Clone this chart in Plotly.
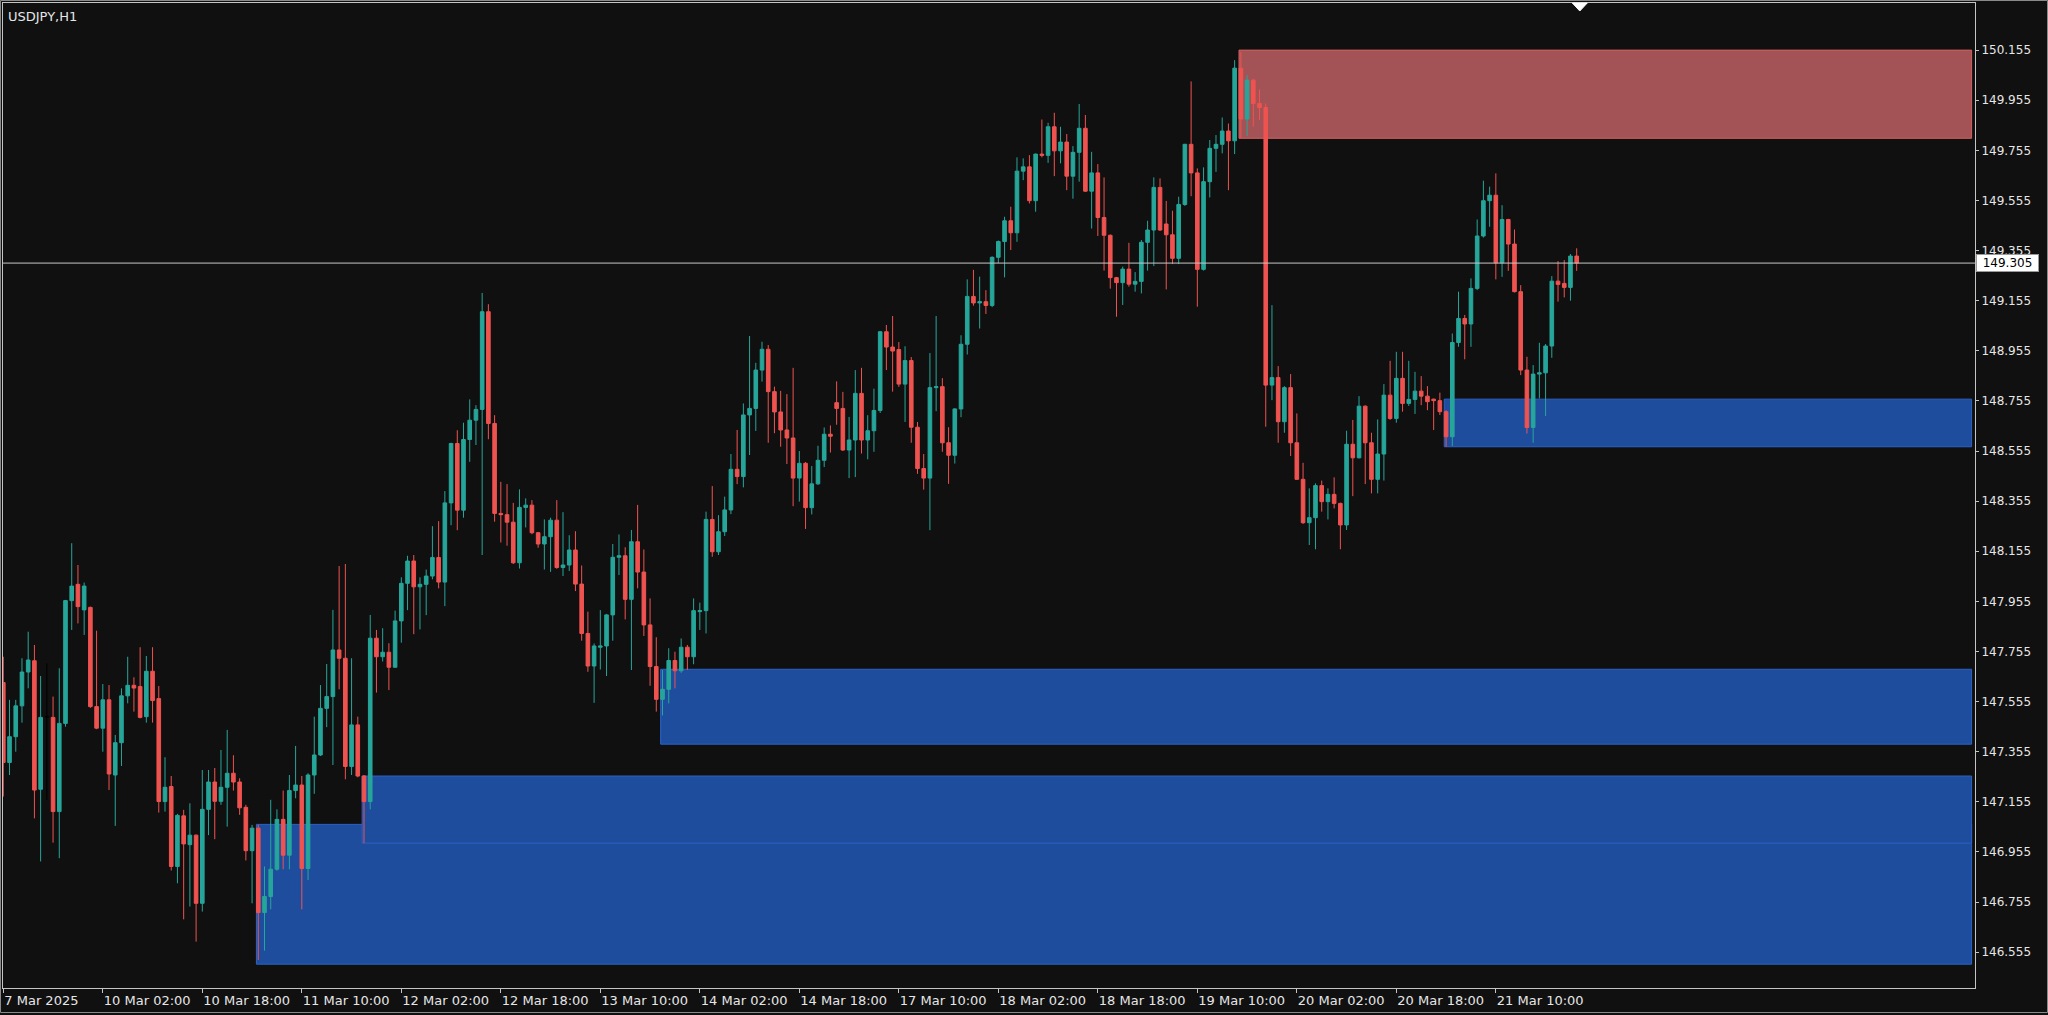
import plotly.graph_objects as go

# ---------------- data ----------------
symbol_title = "USDJPY,H1"

opens = [
    147.631, 147.312, 147.415, 147.538, 147.673, 147.718, 147.205, 147.495, 147.492, 147.116,
    147.468, 147.958, 148.023, 147.921, 147.931, 147.535, 147.449, 147.562, 147.262, 147.391,
    147.578, 147.620, 147.615, 147.495, 147.676, 147.567, 147.156, 147.216, 146.897, 147.099,
    146.984, 147.022, 146.750, 147.125, 147.234, 147.157, 147.213, 147.269, 147.234, 147.133,
    146.960, 147.050, 146.713, 146.777, 146.886, 147.085, 146.942, 147.200, 147.222, 146.889,
    147.262, 147.342, 147.528, 147.575, 147.761, 147.728, 147.296, 147.462, 147.258, 147.156,
    147.808, 147.734, 147.752, 147.692, 147.877, 148.027, 148.116, 148.013, 148.023, 148.056,
    148.130, 148.032, 148.348, 148.585, 148.319, 148.601, 148.678, 148.721, 149.111, 148.665,
    148.306, 148.301, 148.271, 148.109, 148.330, 148.339, 148.229, 148.184, 148.213, 148.279,
    148.090, 148.100, 148.160, 148.024, 147.827, 147.697, 147.772, 147.777, 147.901, 148.131,
    148.137, 147.963, 148.193, 148.072, 147.861, 147.695, 147.564, 147.604, 147.719, 147.678,
    147.772, 147.734, 147.914, 147.918, 148.282, 148.153, 148.233, 148.320, 148.482, 148.453,
    148.699, 148.725, 148.878, 148.961, 148.792, 148.711, 148.639, 148.607, 148.447, 148.506,
    148.329, 148.424, 148.518, 148.622, 148.748, 148.725, 148.559, 148.599, 148.785, 148.599,
    148.636, 148.717, 149.031, 148.970, 148.960, 148.822, 148.916, 148.650, 148.485, 148.447,
    148.808, 148.812, 148.588, 148.538, 148.723, 148.981, 149.172, 149.146, 149.151, 149.136,
    149.328, 149.391, 149.474, 149.426, 149.672, 149.689, 149.554, 149.740, 149.735, 149.849,
    149.753, 149.788, 149.652, 149.747, 149.843, 149.592, 149.665, 149.487, 149.416, 149.247,
    149.227, 149.281, 149.221, 149.232, 149.388, 149.437, 149.607, 149.461, 149.418, 149.324,
    149.539, 149.779, 149.665, 149.280, 149.630, 149.763, 149.779, 149.832, 149.793, 150.083,
    149.880, 150.035, 149.942, 149.926, 148.818, 148.848, 148.672, 148.808, 148.588, 148.442,
    148.269, 148.289, 148.417, 148.353, 148.382, 148.346, 148.260, 148.582, 148.528, 148.734,
    148.588, 148.442, 148.543, 148.778, 148.685, 148.845, 148.745, 148.761, 148.794, 148.774,
    148.762, 148.756, 148.712, 148.612, 148.988, 149.084, 149.062, 149.204, 149.413, 149.554,
    149.576, 149.306, 149.479, 149.381, 149.191, 148.878, 148.649, 148.862, 148.867, 148.974,
    149.233, 149.224, 149.208, 149.333,
]
highs = [
    147.734, 147.562, 147.562, 147.728, 147.834, 147.781, 147.657, 147.708, 147.575, 147.688,
    147.961, 148.187, 148.100, 148.030, 147.934, 147.838, 147.625, 147.621, 147.422, 147.608,
    147.734, 147.652, 147.772, 147.737, 147.772, 147.617, 147.333, 147.258, 147.107, 147.123,
    147.149, 147.025, 147.282, 147.282, 147.290, 147.362, 147.442, 147.341, 147.249, 147.143,
    147.063, 147.063, 146.897, 147.163, 147.125, 147.200, 147.262, 147.378, 147.258, 147.269,
    147.495, 147.621, 147.705, 147.921, 148.096, 148.104, 147.728, 147.495, 147.262, 147.901,
    147.841, 147.848, 147.788, 147.918, 148.051, 148.137, 148.140, 148.051, 148.082, 148.255,
    148.275, 148.395, 148.588, 148.638, 148.668, 148.761, 148.738, 149.186, 149.141, 148.698,
    148.432, 148.423, 148.348, 148.402, 148.366, 148.359, 148.232, 148.282, 148.289, 148.359,
    148.311, 148.219, 148.235, 148.098, 147.914, 147.787, 147.920, 147.905, 148.184, 148.222,
    148.171, 148.240, 148.340, 148.162, 147.967, 147.812, 147.681, 147.768, 147.754, 147.807,
    147.781, 147.967, 147.950, 148.313, 148.415, 148.299, 148.373, 148.543, 148.639, 148.745,
    149.014, 148.907, 148.991, 148.978, 148.812, 148.795, 148.782, 148.887, 148.555, 148.511,
    148.495, 148.576, 148.649, 148.657, 148.833, 148.791, 148.691, 148.878, 148.887, 148.698,
    148.804, 149.034, 149.058, 149.094, 148.990, 148.973, 148.930, 148.671, 148.543, 148.946,
    149.094, 148.846, 148.650, 148.726, 149.017, 149.240, 149.278, 149.251, 149.197, 149.332,
    149.395, 149.490, 149.530, 149.727, 149.723, 149.736, 149.742, 149.878, 149.865, 149.905,
    149.849, 149.820, 149.772, 149.940, 149.896, 149.749, 149.700, 149.647, 149.419, 149.250,
    149.291, 149.386, 149.269, 149.397, 149.474, 149.647, 149.643, 149.553, 149.514, 149.570,
    149.781, 150.030, 149.683, 149.687, 149.796, 149.816, 149.886, 149.862, 150.115, 150.148,
    150.055, 150.040, 149.998, 149.942, 149.137, 148.894, 148.814, 148.862, 148.705, 148.508,
    148.406, 148.426, 148.437, 148.406, 148.450, 148.349, 148.636, 148.679, 148.774, 148.737,
    148.628, 148.681, 148.822, 148.915, 148.951, 148.951, 148.915, 148.871, 148.854, 148.814,
    148.764, 148.788, 148.718, 149.024, 149.191, 149.098, 149.244, 149.479, 149.634, 149.610,
    149.663, 149.536, 149.482, 149.439, 149.217, 148.931, 148.898, 148.987, 148.982, 149.253,
    149.313, 149.317, 149.341, 149.364,
]
lows = [
    147.176, 147.262, 147.355, 147.471, 147.608, 147.089, 146.917, 147.163, 146.992, 146.930,
    147.455, 147.841, 147.867, 147.821, 147.530, 147.445, 147.355, 147.202, 147.059, 147.298,
    147.548, 147.515, 147.488, 147.471, 147.471, 147.112, 147.116, 146.881, 146.830, 146.686,
    146.737, 146.597, 146.717, 147.022, 147.006, 147.143, 147.056, 147.200, 147.103, 146.921,
    146.750, 146.524, 146.561, 146.726, 146.880, 146.886, 146.886, 147.169, 146.726, 146.843,
    147.187, 147.338, 147.453, 147.302, 147.604, 147.245, 147.262, 147.253, 146.990, 147.125,
    147.591, 147.715, 147.601, 147.692, 147.790, 147.920, 147.824, 147.843, 147.900, 148.043,
    148.007, 147.936, 148.259, 148.239, 148.289, 148.512, 148.579, 148.140, 148.602, 148.273,
    148.190, 148.177, 148.104, 148.086, 148.250, 148.223, 148.169, 148.082, 148.073, 148.085,
    148.056, 148.076, 147.996, 147.798, 147.674, 147.550, 147.683, 147.657, 147.798, 148.060,
    147.883, 147.681, 148.007, 147.817, 147.618, 147.515, 147.500, 147.548, 147.608, 147.670,
    147.681, 147.704, 147.841, 147.827, 148.133, 148.140, 148.216, 148.303, 148.423, 148.410,
    148.539, 148.635, 148.832, 148.588, 148.626, 148.572, 148.503, 148.335, 148.353, 148.244,
    148.302, 148.420, 148.491, 148.549, 148.660, 148.555, 148.447, 148.451, 148.545, 148.522,
    148.552, 148.707, 148.878, 148.792, 148.811, 148.671, 148.588, 148.464, 148.401, 148.239,
    148.714, 148.552, 148.424, 148.505, 148.690, 148.940, 149.135, 149.044, 149.102, 149.129,
    149.305, 149.248, 149.357, 149.390, 149.636, 149.543, 149.510, 149.727, 149.705, 149.652,
    149.703, 149.596, 149.562, 149.630, 149.589, 149.443, 149.413, 149.275, 149.203, 149.091,
    149.138, 149.211, 149.191, 149.184, 149.275, 149.293, 149.433, 149.200, 149.301, 149.301,
    149.533, 149.572, 149.131, 149.275, 149.567, 149.669, 149.743, 149.596, 149.740, 149.804,
    149.812, 149.849, 149.876, 148.652, 148.758, 148.588, 148.628, 148.535, 148.440, 148.264,
    148.180, 148.163, 148.313, 148.282, 148.326, 148.163, 148.240, 148.375, 148.525, 148.423,
    148.386, 148.386, 148.437, 148.679, 148.668, 148.712, 148.735, 148.703, 148.738, 148.718,
    148.639, 148.699, 148.572, 148.575, 148.971, 148.921, 148.971, 149.197, 149.407, 149.450,
    149.240, 149.250, 149.274, 149.188, 148.858, 148.625, 148.588, 148.765, 148.695, 148.927,
    149.151, 149.168, 149.155, 149.274,
]
closes = [
    147.312, 147.415, 147.538, 147.673, 147.721, 147.202, 147.492, 147.495, 147.116, 147.468,
    147.958, 148.016, 147.934, 148.016, 147.535, 147.449, 147.562, 147.266, 147.391, 147.578,
    147.620, 147.609, 147.492, 147.676, 147.559, 147.156, 147.213, 146.897, 147.101, 146.987,
    147.022, 146.750, 147.125, 147.234, 147.157, 147.213, 147.269, 147.234, 147.131, 146.960,
    147.050, 146.713, 146.777, 146.886, 147.085, 146.942, 147.200, 147.222, 146.889, 147.262,
    147.342, 147.528, 147.575, 147.761, 147.728, 147.296, 147.462, 147.258, 147.156, 147.808,
    147.734, 147.752, 147.692, 147.877, 148.027, 148.116, 148.013, 148.023, 148.056, 148.130,
    148.032, 148.348, 148.585, 148.319, 148.601, 148.678, 148.721, 149.111, 148.665, 148.306,
    148.301, 148.271, 148.109, 148.330, 148.339, 148.229, 148.184, 148.213, 148.279, 148.090,
    148.100, 148.160, 148.024, 147.827, 147.697, 147.777, 147.777, 147.901, 148.131, 148.137,
    147.963, 148.193, 148.072, 147.861, 147.695, 147.564, 147.604, 147.719, 147.678, 147.772,
    147.734, 147.918, 147.918, 148.282, 148.153, 148.233, 148.320, 148.482, 148.453, 148.699,
    148.725, 148.878, 148.961, 148.792, 148.711, 148.639, 148.607, 148.447, 148.506, 148.329,
    148.424, 148.518, 148.622, 148.614, 148.725, 148.559, 148.599, 148.785, 148.599, 148.636,
    148.717, 149.031, 148.970, 148.954, 148.822, 148.916, 148.650, 148.485, 148.447, 148.808,
    148.812, 148.588, 148.538, 148.723, 148.981, 149.172, 149.146, 149.151, 149.136, 149.328,
    149.391, 149.474, 149.426, 149.672, 149.689, 149.554, 149.740, 149.735, 149.849, 149.753,
    149.788, 149.652, 149.747, 149.843, 149.592, 149.665, 149.487, 149.416, 149.247, 149.227,
    149.281, 149.221, 149.232, 149.388, 149.437, 149.607, 149.437, 149.418, 149.324, 149.539,
    149.779, 149.665, 149.280, 149.630, 149.763, 149.779, 149.832, 149.793, 150.083, 149.880,
    150.035, 149.942, 149.926, 148.818, 148.848, 148.672, 148.808, 148.588, 148.442, 148.269,
    148.289, 148.417, 148.353, 148.382, 148.346, 148.260, 148.582, 148.528, 148.734, 148.588,
    148.442, 148.543, 148.778, 148.685, 148.845, 148.745, 148.761, 148.794, 148.774, 148.752,
    148.756, 148.712, 148.612, 148.988, 149.084, 149.062, 149.204, 149.413, 149.554, 149.576,
    149.306, 149.479, 149.381, 149.191, 148.878, 148.649, 148.862, 148.867, 148.974, 149.233,
    149.220, 149.208, 149.333, 149.305,
]

# time-axis labels (every 16th hourly bar)
time_tick_bars = [0, 16, 32, 48, 64, 80, 96, 112, 128, 144, 160, 176, 192, 208, 224, 240]
time_tick_labels = ["7 Mar 2025", "10 Mar 02:00", "10 Mar 18:00", "11 Mar 10:00",
                    "12 Mar 02:00", "12 Mar 18:00", "13 Mar 10:00", "14 Mar 02:00",
                    "14 Mar 18:00", "17 Mar 10:00", "18 Mar 02:00", "18 Mar 18:00",
                    "19 Mar 10:00", "20 Mar 02:00", "20 Mar 18:00", "21 Mar 10:00"]

# price-axis labels
price_ticks = [146.555, 146.755, 146.955, 147.155, 147.355, 147.555, 147.755, 147.955,
               148.155, 148.355, 148.555, 148.755, 148.955, 149.155, 149.355, 149.555,
               149.755, 149.955, 150.155]

# supply / demand zones: start bar, top, bottom, kind
zone_start_bar = [41, 58, 106, 199, 232]
zone_top = [147.065, 147.258, 147.684, 150.155, 148.762]
zone_bottom = [146.507, 146.990, 147.385, 149.803, 148.572]
zone_kind = ["demand", "demand", "demand", "supply", "demand"]
zone_end_bar = 316.5

last_price = 149.305
chart_shift_bar = 253.5

# ---------------- styling ----------------
W, H = 2048, 1015
M_L, M_R, M_T, M_B = 3, 73, 3, 27
BG = "#101010"
FRAME = "#c4c4c4"
TEXT = "#e6e6e6"
BULL = "#26a69a"
BEAR = "#ef5350"
DOJI = "#000000"
FONT = "DejaVu Sans"
ZONE_STYLE = {
    "demand": dict(fill="#1f4d9e", line="#2c62c6"),
    "supply": dict(fill="#a35356", line="#d4605f"),
}

n = len(opens)
bars = list(range(n))
is_doji = [o == c for o, c in zip(opens, closes)]


def pick(vals, keep):
    return [v if k else None for v, k in zip(vals, keep)]


not_doji = [not d for d in is_doji]

fig = go.Figure()
fig.add_trace(go.Candlestick(
    x=bars,
    open=pick(opens, not_doji), high=pick(highs, not_doji),
    low=pick(lows, not_doji), close=pick(closes, not_doji),
    increasing=dict(line=dict(color=BULL, width=1), fillcolor=BULL),
    decreasing=dict(line=dict(color=BEAR, width=1), fillcolor=BEAR),
    whiskerwidth=0, hoverinfo="skip", showlegend=False,
))
fig.add_trace(go.Candlestick(
    x=bars,
    open=pick(opens, is_doji), high=pick(highs, is_doji),
    low=pick(lows, is_doji), close=pick(closes, is_doji),
    increasing=dict(line=dict(color=DOJI, width=1), fillcolor=DOJI),
    decreasing=dict(line=dict(color=DOJI, width=1), fillcolor=DOJI),
    whiskerwidth=0, hoverinfo="skip", showlegend=False,
))

shapes = []
for start, top, bot, kind in zip(zone_start_bar, zone_top, zone_bottom, zone_kind):
    st = ZONE_STYLE[kind]
    shapes.append(dict(type="rect", xref="x", yref="y", x0=start - 0.3, x1=zone_end_bar,
                       y0=bot, y1=top, fillcolor=st["fill"],
                       line=dict(color=st["line"], width=1), layer="below"))

# current price line
shapes.append(dict(type="line", xref="paper", yref="y", x0=0, x1=1, y0=last_price, y1=last_price,
                   line=dict(color="#c8c8c8", width=1), layer="above"))

# chart-shift marker (white triangle at the top)
ph = H - M_T - M_B
tri_h = 8 / ph
shapes.append(dict(type="path", xref="x", yref="paper",
                   path=f"M {chart_shift_bar - 1.2},1 L {chart_shift_bar + 1.2},1 "
                        f"L {chart_shift_bar},{1 - tri_h} Z",
                   fillcolor="#ffffff", line=dict(color="#ffffff", width=1), layer="above"))

# outer window frame
pw = W - M_L - M_R
shapes.append(dict(type="rect", xref="paper", yref="paper",
                   x0=(-M_L + 0.5) / pw, x1=(pw + M_R - 0.5) / pw,
                   y0=(-M_B + 2.5) / ph, y1=1 + (M_T - 0.5) / ph,
                   line=dict(color="#8a8a8a", width=1), fillcolor="rgba(0,0,0,0)", layer="above"))

annotations = [
    dict(text=symbol_title, xref="paper", yref="paper", x=0, y=1, xanchor="left", yanchor="top",
         xshift=3, yshift=-4, showarrow=False, font=dict(family=FONT, size=13, color=TEXT)),
    dict(text=f"{last_price:.3f}", xref="paper", yref="y", x=1, y=last_price,
         xanchor="left", yanchor="middle", xshift=1, showarrow=False,
         bgcolor="#ffffff", bordercolor="#9a9a9a", borderwidth=1, borderpad=1,
         width=59, height=14, align="center",
         font=dict(family=FONT, size=12, color="#000000")),
]

fig.update_layout(
    width=W, height=H,
    margin=dict(l=M_L, r=M_R, t=M_T, b=M_B, pad=0),
    paper_bgcolor=BG, plot_bgcolor=BG,
    showlegend=False,
    boxgap=0.42, boxgroupgap=0,
    shapes=shapes, annotations=annotations,
    font=dict(family=FONT, size=12, color=TEXT),
    xaxis=dict(
        type="linear", range=[-0.05, 317.05],
        rangeslider=dict(visible=False),
        showgrid=False, zeroline=False,
        showline=True, mirror=True, linecolor=FRAME, linewidth=1,
        ticks="outside", ticklen=4, tickcolor=FRAME, tickwidth=1,
        tickvals=time_tick_bars, ticktext=time_tick_labels,
        ticklabelposition="outside right",
        tickfont=dict(family=FONT, size=13, color=TEXT),
        fixedrange=True,
    ),
    yaxis=dict(
        side="right", range=[146.412, 150.343],
        showgrid=False, zeroline=False,
        showline=True, mirror=True, linecolor=FRAME, linewidth=1,
        ticks="outside", ticklen=3, tickcolor=FRAME, tickwidth=1,
        tickvals=price_ticks, ticktext=[f"{p:.3f}" for p in price_ticks],
        tickfont=dict(family=FONT, size=12, color=TEXT),
        fixedrange=True,
    ),
)

fig.write_html(
    "out.html",
    config={"displayModeBar": False},
    post_script="document.body.style.margin='0';document.body.style.background='#101010';",
)
